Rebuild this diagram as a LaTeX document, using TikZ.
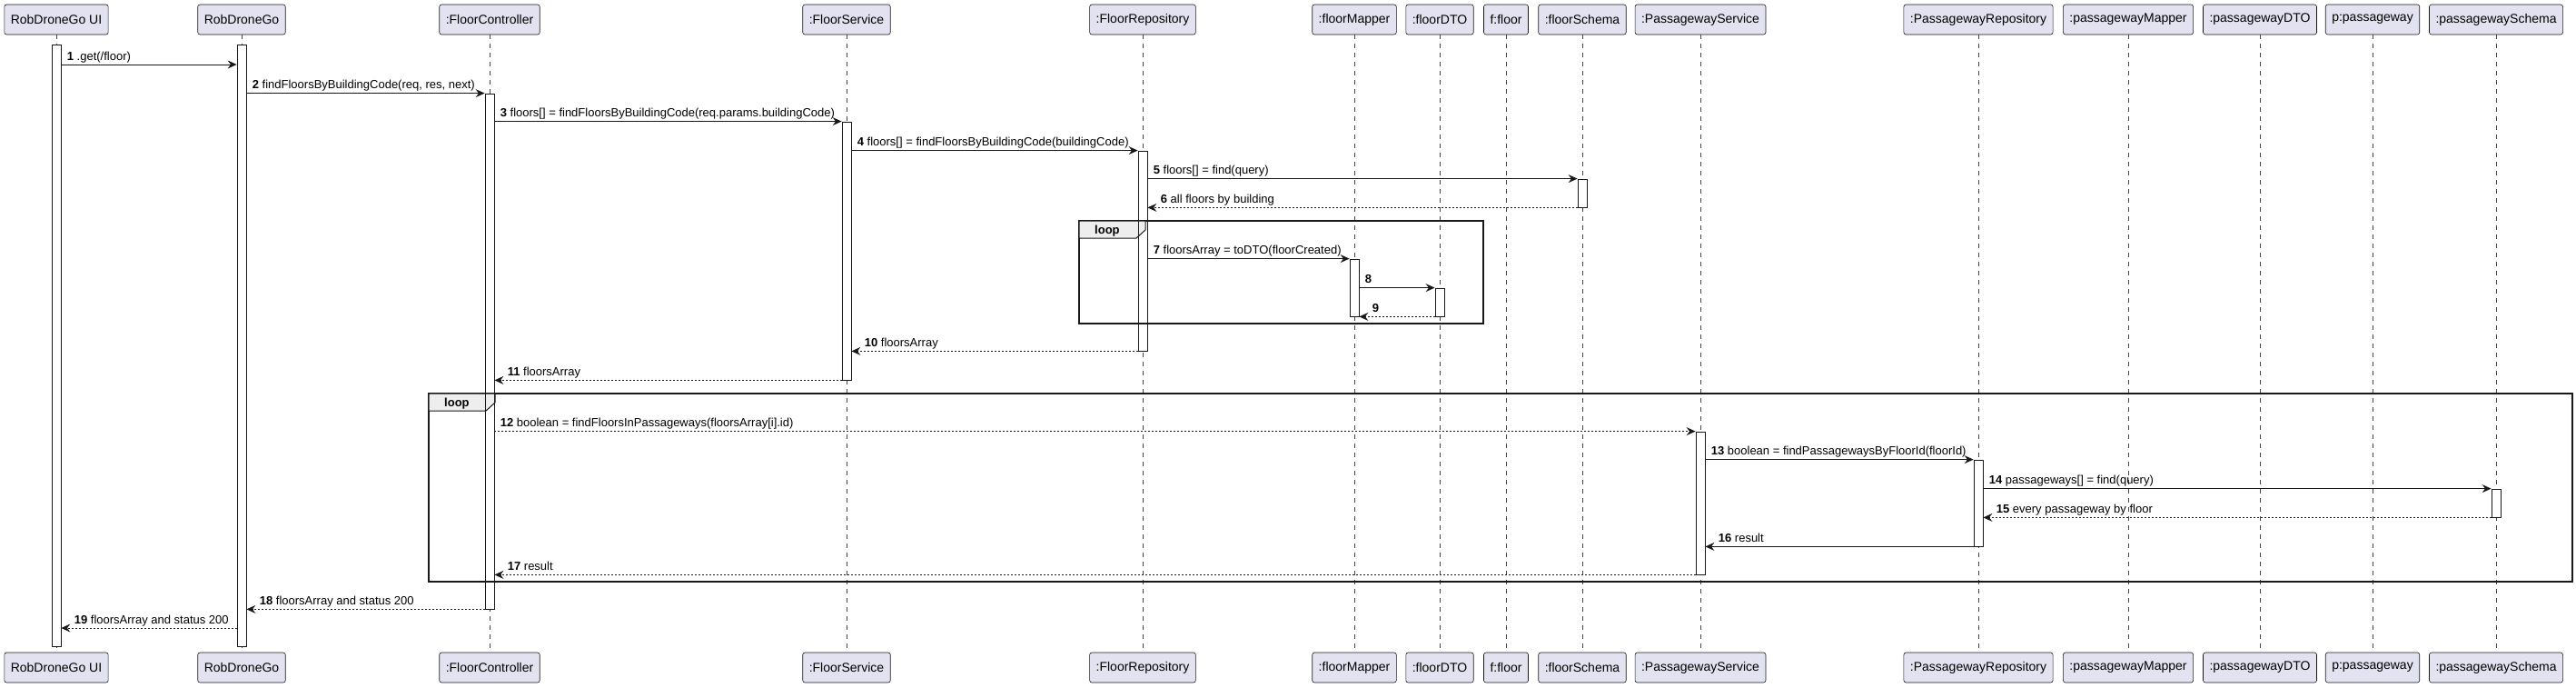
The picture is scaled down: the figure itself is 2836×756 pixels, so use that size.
\documentclass[tikz,border=0pt]{standalone}
\usepackage{fontspec}
\setmainfont{Liberation Sans}
\usetikzlibrary{arrows.meta}
\definecolor{partfill}{HTML}{E2E2F0}
\definecolor{ink}{HTML}{181818}
\definecolor{tabfill}{HTML}{EEEEEE}
\tikzset{
  part/.style={rectangle, draw=ink, fill=partfill, rounded corners=2.5pt, line width=0.6pt,
    minimum height=33pt, inner xsep=7pt, inner ysep=0pt, font=\fontsize{14}{16}\selectfont},
  life/.style={draw=ink!80, line width=0.5pt, dash pattern=on 5pt off 5pt},
  act/.style={rectangle, draw=ink, fill=white, line width=0.8pt, minimum width=10pt, inner sep=0pt},
  actline/.style={rectangle, draw=ink, line width=0.8pt, minimum width=10pt, inner sep=0pt},
  msg/.style={draw=ink, line width=0.9pt, -{Stealth[length=10pt,width=9pt,inset=3.5pt]}},
  ret/.style={msg, dash pattern=on 2pt off 2pt},
  lbl/.style={font=\fontsize{13}{15}\selectfont, inner sep=0pt, anchor=base west},
  loopframe/.style={draw=ink, line width=1.6pt},
  looptab/.style={draw=ink, fill=tabfill, line width=1pt},
  looptxt/.style={font=\fontsize{13}{15}\selectfont\bfseries, inner sep=0pt, anchor=base west}
}
\newcommand\participant[3]{%
  \node[part] (#1t) at (#2,21.5) {#3};
  \node[part] (#1b) at (#2,734.5) {#3};
  \draw[life] (#1t.south) -- (#1b.north);
}
\newcommand\activ[4]{%
  \node[act, minimum height={(#4-#3)*1pt}] (#1) at (#2,{(#3+#4)/2}) {};
}
\newcommand\activline[4]{%
  \node[actline, minimum height={(#4-#3)*1pt}] (#1o) at (#2,{(#3+#4)/2}) {};
}
\newcommand\fwd[4][msg]{%
  \draw[#1] (#2) -- (#3) node[lbl, pos=0, xshift=6pt, yshift=5pt] {#4};
}
\newcommand\bwd[4][ret]{%
  \draw[#1] (#2) -- (#3) node[lbl, pos=1, xshift=14pt, yshift=5pt] {#4};
}
\begin{document}
\begin{tikzpicture}[x=1pt,y=-1pt]
\useasboundingbox (0,0) rectangle (2836,756);
\fill[white] (0,0) rectangle (2836,756);
% participants and lifelines
\participant{UI}{62}{RobDroneGo UI}
\participant{RDG}{266}{RobDroneGo}
\participant{FC}{539}{:FloorController}
\participant{FS}{932}{:FloorService}
\participant{FR}{1258}{:FloorRepository}
\participant{FM}{1491}{:floorMapper}
\participant{FD}{1585}{:floorDTO}
\participant{FF}{1658}{f:floor}
\participant{FSc}{1742}{:floorSchema}
\participant{PS}{1872}{:PassagewayService}
\participant{PR}{2178}{:PassagewayRepository}
\participant{PM}{2343}{:passagewayMapper}
\participant{PD}{2488}{:passagewayDTO}
\participant{PP}{2612}{p:passageway}
\participant{PSc}{2748}{:passagewaySchema}
% activations
\activ{aUI}{62}{49}{711}
\activ{aRDG}{266}{49}{711}
\activ{aFC}{539}{103}{670}
\activ{aFS}{932}{134}{418}
\activ{aFR}{1258}{166}{386}
\activ{aFSc}{1742}{197}{228}
\activ{aFM}{1491}{285}{348}
\activ{aFD}{1585}{317}{348}
\activ{aPS}{1872}{475}{632}
\activ{aPR}{2178}{506}{601}
\activ{aPSc}{2748}{538}{569}
% loops
\draw[loopframe] (1188,243) rectangle (1633,356);
\draw[looptab] (1188,243) -- (1261,243) -- (1261,253) -- (1251,262) -- (1188,262) -- cycle;
\node[looptxt] (loopA) at (1205,257.5) {loop};
\draw[loopframe] (472,433) rectangle (2832,640);
\draw[looptab] (472,433) -- (545,433) -- (545,443) -- (535,452) -- (472,452) -- cycle;
\node[looptxt] (loopB) at (489,447.5) {loop};
\activline{aFR}{1258}{166}{386}
\activline{aFC}{539}{103}{670}
% message anchors
\coordinate (m1) at (0,71);
\coordinate (m19) at (0,691);
% messages
\fwd{aUI.east |- m1}{aRDG.west |- m1}{\textbf{1} .get(/floor)}
\fwd{aRDG.east |- aFC.north}{aFC.north west}{\textbf{2} findFloorsByBuildingCode(req, res, next)}
\fwd{aFC.east |- aFS.north}{aFS.north west}{\textbf{3} floors[] = findFloorsByBuildingCode(req.params.buildingCode)}
\fwd{aFS.east |- aFR.north}{aFR.north west}{\textbf{4} floors[] = findFloorsByBuildingCode(buildingCode)}
\fwd{aFR.east |- aFSc.north}{aFSc.north west}{\textbf{5} floors[] = find(query)}
\bwd{aFSc.south west}{aFR.east |- aFSc.south}{\textbf{6} all floors by building}
\fwd{aFR.east |- aFM.north}{aFM.north west}{\textbf{7} floorsArray = toDTO(floorCreated)}
\fwd{aFM.east |- aFD.north}{aFD.north west}{\textbf{8}}
\bwd{aFD.south west}{aFM.east |- aFD.south}{\textbf{9}}
\bwd{aFR.south west}{aFS.east |- aFR.south}{\textbf{10} floorsArray}
\bwd{aFS.south west}{aFC.east |- aFS.south}{\textbf{11} floorsArray}
\fwd[ret]{aFC.east |- aPS.north}{aPS.north west}{\textbf{12} boolean = findFloorsInPassageways(floorsArray[i].id)}
\fwd{aPS.east |- aPR.north}{aPR.north west}{\textbf{13} boolean = findPassagewaysByFloorId(floorId)}
\fwd{aPR.east |- aPSc.north}{aPSc.north west}{\textbf{14} passageways[] = find(query)}
\bwd{aPSc.south west}{aPR.east |- aPSc.south}{\textbf{15} every passageway by floor}
\bwd[msg]{aPR.south west}{aPS.east |- aPR.south}{\textbf{16} result}
\bwd{aPS.south west}{aFC.east |- aPS.south}{\textbf{17} result}
\bwd{aFC.south west}{aRDG.east |- aFC.south}{\textbf{18} floorsArray and status 200}
\bwd{aRDG.west |- m19}{aUI.east |- m19}{\textbf{19} floorsArray and status 200}
\end{tikzpicture}
\end{document}
